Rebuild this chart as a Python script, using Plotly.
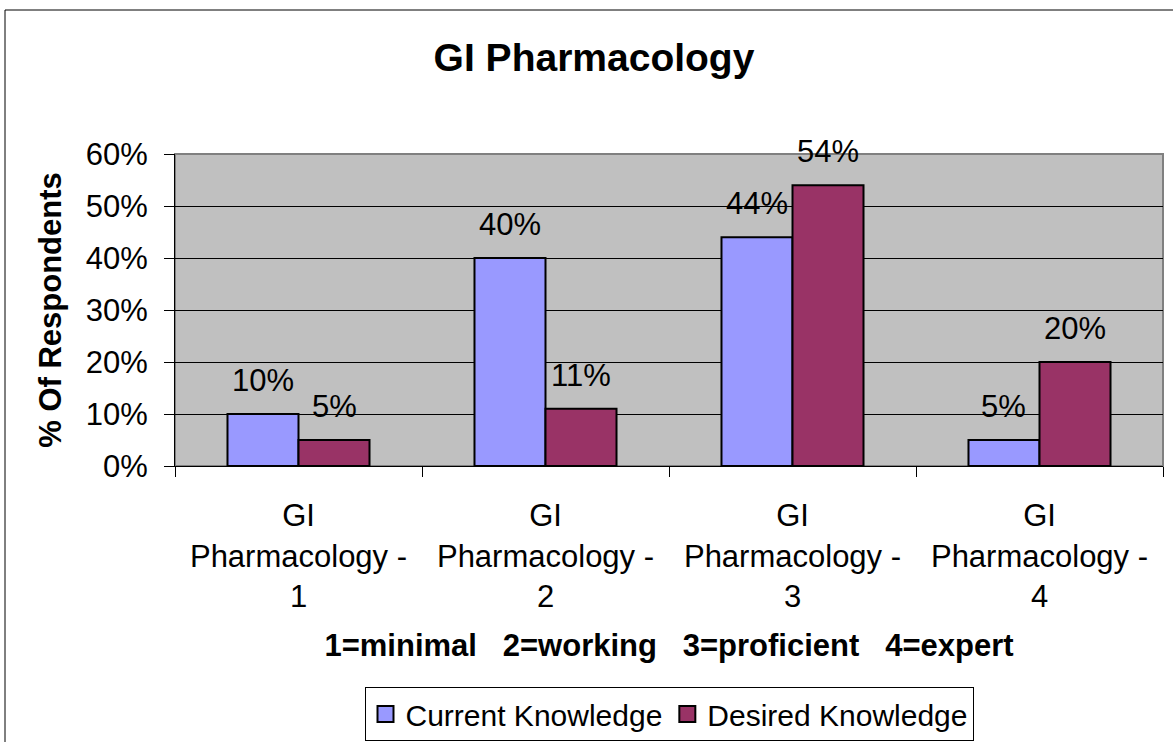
import plotly.graph_objects as go

categories = ["GI<br>Pharmacology -<br>1", "GI<br>Pharmacology -<br>2",
              "GI<br>Pharmacology -<br>3", "GI<br>Pharmacology -<br>4"]
current = [0.10, 0.40, 0.44, 0.05]
desired = [0.05, 0.11, 0.54, 0.20]
series_names = ["Current Knowledge", "Desired Knowledge"]
series_colors = ["#9999FF", "#993366"]
y_ticks = [0, 0.1, 0.2, 0.3, 0.4, 0.5, 0.6]

FONT = "Arial, Liberation Sans, sans-serif"
BARGAP = 0.425
W, H = 1173, 742
ML, MR, MT, MB = 175, 10, 154, 276

fig = go.Figure()
for name, vals, col in zip(series_names, [current, desired], series_colors):
    fig.add_bar(x=categories, y=vals, name=name, showlegend=False, legendgroup=name,
                marker=dict(color=col, line=dict(color="black", width=2)))
for name, col in zip(series_names, series_colors):
    fig.add_scatter(x=[None], y=[None], mode="markers", name=name, legendgroup=name,
                    marker=dict(symbol="square", size=16, color=col,
                                line=dict(color="black", width=2)))

bw = (1 - BARGAP) / 2
annotations = []
for s, vals in enumerate([current, desired]):
    off = (s - 0.5) * bw
    for i, v in enumerate(vals):
        annotations.append(dict(x=i + off, y=v, xref="x", yref="y",
                                text=f"{round(v*100)}%", showarrow=False,
                                yanchor="bottom", yshift=14,
                                font=dict(family=FONT, size=31, color="black")))

pw = W - ML - MR
ph = H - MT - MB
shapes = [
    dict(type="rect", xref="paper", yref="paper", x0=0, y0=0, x1=1, y1=1,
         line=dict(color="#808080", width=2), layer="below"),
    dict(type="rect", xref="paper", yref="paper",
         x0=(5 - ML) / pw, x1=(1185 - ML) / pw,
         y0=-(760 - (H - MB)) / ph, y1=1 + (MT - 10) / ph,
         line=dict(color="black", width=1), layer="below"),
]

fig.update_layout(
    width=W, height=H,
    margin=dict(l=ML, r=MR, t=MT, b=MB, autoexpand=False),
    paper_bgcolor="white", plot_bgcolor="#C0C0C0",
    barmode="group", bargap=BARGAP, bargroupgap=0,
    font=dict(family=FONT, size=31, color="black"),
    title=dict(text="<b>GI Pharmacology</b>", xref="container", x=594 / W,
               xanchor="center", yref="container", y=1 - 57 / H, yanchor="middle",
               font=dict(family=FONT, size=39, color="black")),
    showlegend=True,
    legend=dict(orientation="h", x=0.5, xanchor="center",
                yref="container", y=1 - 741 / H, yanchor="bottom",
                bordercolor="black", borderwidth=1, bgcolor="white",
                itemsizing="trace", itemwidth=30,
                font=dict(family=FONT, size=30, color="black"), traceorder="normal"),
    annotations=annotations,
    shapes=shapes,
)
fig.update_xaxes(
    type="category", showline=True, linecolor="black", linewidth=1,
    ticks="outside", tickson="boundaries", ticklen=10, tickcolor="black",
    showgrid=False, ticklabelstandoff=22, automargin=False,
    title=dict(text="<b>1=minimal\u00a0\u00a0\u00a02=working\u00a0\u00a0\u00a03=proficient\u00a0\u00a0\u00a04=expert</b>",
               standoff=21, font=dict(family=FONT, size=31, color="black")),
)
fig.update_yaxes(
    range=[0, 0.6], tickvals=y_ticks, tickformat=".0%",
    showline=True, linecolor="black", linewidth=1,
    ticks="outside", ticklen=10, tickcolor="black", ticklabelstandoff=10,
    showgrid=True, gridcolor="black", gridwidth=1, zeroline=False, automargin=False,
    title=dict(text="<b>% Of Respondents</b>", standoff=14,
               font=dict(family=FONT, size=31, color="black")),
)

fig.write_html("out.html", config={"displayModeBar": False},
               post_script="document.body.style.margin='0';")
